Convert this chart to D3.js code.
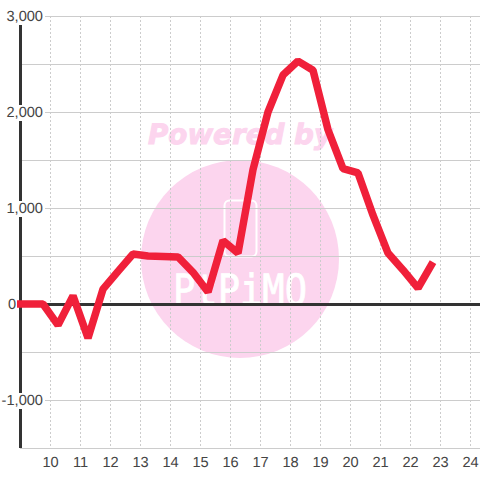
<!DOCTYPE html>
<html>
<head>
<meta charset="utf-8">
<script src="https://cdn.jsdelivr.net/npm/d3@7"></script>
<style>
  html, body { margin: 0; padding: 0; background: #fff; }
  svg { display: block; }
  text { font-family: "Liberation Sans", Arial, sans-serif; text-rendering: geometricPrecision; }
</style>
</head>
<body>
<svg id="chart" width="480" height="480"></svg>
<script>
const hours = [8.75, 9.25, 9.75, 10.25, 10.75, 11.25, 11.75, 12.25, 12.75, 13.25, 13.75, 14.25, 14.75, 15.25, 15.75, 16.25, 16.75, 17.25, 17.75, 18.25, 18.75, 19.25, 19.75, 20.25, 20.75, 21.25, 21.75, 22.25, 22.75];
const values = [0, 0, 0, -220, 85, -355, 155, 340, 520, 500, 495, 490, 330, 125, 660, 530, 1400, 2000, 2385, 2530, 2435, 1815, 1410, 1365, 925, 530, 355, 165, 435];
const xTicks = [10, 11, 12, 13, 14, 15, 16, 17, 18, 19, 20, 21, 22, 23, 24];
const yLabelTicks = ['3,000', '2,000', '1,000', '0', '-1,000'];
const yLabelValues = [3000, 2000, 1000, 0, -1000];
const yGridTicks = [3000, 2500, 2000, 1500, 1000, 500, 0, -500, -1000, -1500];

const svg = d3.select('#chart');
const x = d3.scaleLinear().domain([9, 25]).range([20.5, 500.5]);
const y = d3.scaleLinear().domain([-1500, 3000]).range([448, 16]);

// watermark sits behind everything
const mark = svg.append('g').attr('class', 'watermark');
mark.append('circle')
  .attr('cx', 240).attr('cy', 259).attr('r', 99)
  .style('fill', '#fcd5ee');
mark.append('text')
  .attr('x', 240).attr('y', 144)
  .attr('text-anchor', 'middle')
  .attr('textLength', 184)
  .attr('lengthAdjust', 'spacingAndGlyphs')
  .style('font-family', '"DejaVu Sans"')
  .style('font-size', '28px')
  .style('font-weight', 'bold')
  .style('font-style', 'italic')
  .style('fill', '#fcd5ee')
  .style('stroke', '#fcd5ee')
  .style('stroke-width', 1)
  .text('Powered by');
mark.append('rect')
  .attr('x', 224.5).attr('y', 200.5).attr('width', 32).attr('height', 56).attr('rx', 5)
  .style('fill', 'none')
  .style('stroke', '#fff')
  .style('stroke-width', 2);
mark.append('text')
  .attr('x', 240).attr('y', 305)
  .attr('text-anchor', 'middle')
  .attr('textLength', 134)
  .attr('lengthAdjust', 'spacingAndGlyphs')
  .style('font-family', '"DejaVu Sans Mono"')
  .style('font-size', '43px')
  .style('fill', '#fff')
  .style('stroke', '#fff')
  .style('stroke-width', 0.8)
  .text('PtPiMO');

// grid
svg.append('g').selectAll('line').data(xTicks).join('line')
  .attr('x1', d => x(d)).attr('x2', d => x(d))
  .attr('y1', 16).attr('y2', 448)
  .style('stroke', '#ccc')
  .style('stroke-dasharray', '2,2');
svg.append('g').selectAll('line').data(yGridTicks).join('line')
  .attr('x1', 20).attr('x2', 480)
  .attr('y1', d => y(d) + 0.5).attr('y2', d => y(d) + 0.5)
  .style('stroke', '#ccc');

// axes
svg.append('line')
  .attr('x1', 20.5).attr('x2', 20.5).attr('y1', 16).attr('y2', 448)
  .style('stroke', '#333').style('stroke-width', 3);
svg.append('line')
  .attr('x1', 20).attr('x2', 480).attr('y1', y(0) + 0.5).attr('y2', y(0) + 0.5)
  .style('stroke', '#333').style('stroke-width', 3);

// y labels carry a white plate that cuts the axis; the 0 label stays left of it
const yLabels = svg.append('g').selectAll('g').data(yLabelValues).join('g');
yLabels.append('text')
  .attr('x', d => d === 0 ? 16 : 43).attr('y', d => y(d) + 5)
  .attr('text-anchor', 'end')
  .style('font-size', '14.6px')
  .style('fill', '#444')
  .text((d, i) => yLabelTicks[i]);
yLabels.insert('rect', 'text')
  .each(function () {
    const b = this.parentNode.querySelector('text').getBBox();
    d3.select(this)
      .attr('x', b.x - 1).attr('y', b.y)
      .attr('width', b.width + 3).attr('height', b.height)
      .style('fill', '#fff');
  });

svg.append('g').selectAll('text').data(xTicks).join('text')
  .attr('x', d => x(d)).attr('y', 467)
  .attr('text-anchor', 'middle')
  .style('font-size', '14.6px')
  .style('fill', '#444')
  .text(d => d);

// series, cut just left of the axis
svg.append('clipPath').attr('id', 'plot')
  .append('rect').attr('x', 17).attr('y', 0).attr('width', 463).attr('height', 480);
const line = d3.line().x((d, i) => x(hours[i])).y(d => y(d));
svg.append('path')
  .datum(values)
  .attr('clip-path', 'url(#plot)')
  .attr('d', line)
  .style('fill', 'none')
  .style('stroke', '#f0203a')
  .style('stroke-width', 7.5)
  .style('stroke-linejoin', 'bevel');
</script>
</body>
</html>
